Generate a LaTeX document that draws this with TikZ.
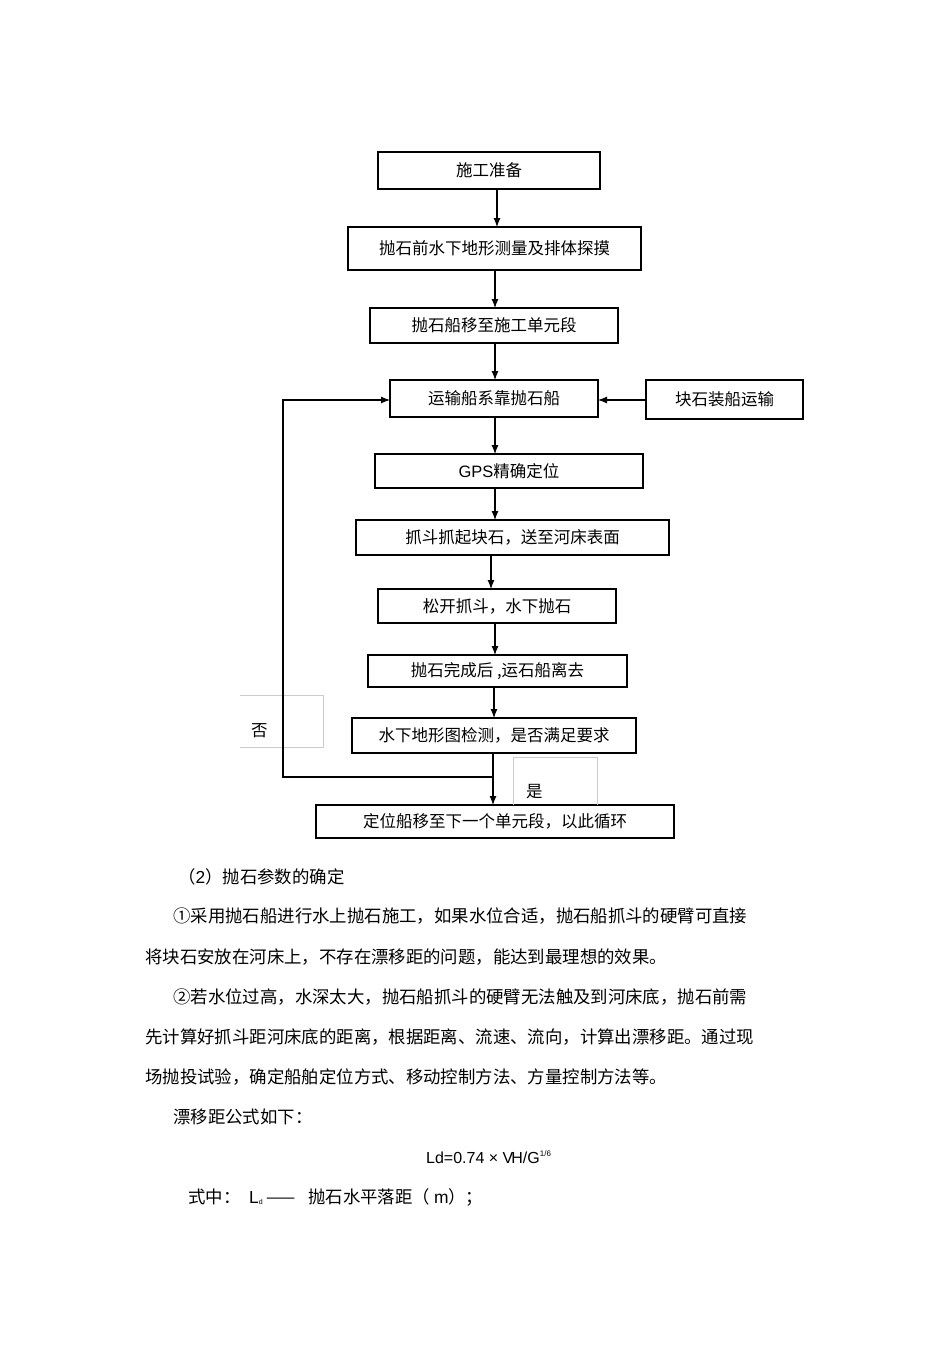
\documentclass[tikz,border=0pt]{standalone}
\usepackage{fontspec}
\usetikzlibrary{arrows.meta}
\setmainfont{Liberation Sans}
\newfontfamily\cjk{Noto Sans CJK SC}
\begin{document}
\begin{tikzpicture}[x=1pt,y=-1pt,
  bx/.style={draw,line width=1.1pt,inner sep=0,font=\cjk\fontsize{16.5}{19}\selectfont},
  ar/.style={-{Latex[length=9pt,width=7pt]},line width=1.1pt},
  tx/.style={anchor=west,inner sep=0,font=\cjk\fontsize{17.4}{20}\selectfont}]
\useasboundingbox (0,0) rectangle (950,1345);
\newcommand{\bxx}[6]{\node[bx,minimum width=#4-#2,minimum height=#5-#3] (#1) at ({(#2+#4)/2},{(#3+#5)/2}) {#6};}
\bxx{a}{378}{152}{600}{189}{施工准备}
\bxx{b}{348}{227}{641}{270}{抛石前水下地形测量及排体探摸}
\bxx{c}{370}{308}{618}{343}{抛石船移至施工单元段}
\bxx{d}{390}{380}{598}{417}{运输船系靠抛石船}
\bxx{e}{646}{380}{803}{419}{块石装船运输}
\bxx{f}{375}{454}{643}{488}{{\fontspec{Liberation Sans}GPS}精确定位}
\bxx{g}{356}{520}{669}{555}{抓斗抓起块石，送至河床表面}
\bxx{h}{378}{589}{616}{623}{松开抓斗，水下抛石}
\bxx{i}{368}{655}{627}{687}{抛石完成后 ,运石船离去}
\bxx{j}{352}{718}{636}{753}{水下地形图检测，是否满足要求}
\bxx{k}{316}{805}{674}{838}{定位船移至下一个单元段，以此循环}
\draw[gray!40,line width=0.6pt] (240,695) -- (323,695) -- (323,747) -- (240,747);
\node[tx,font=\cjk\fontsize{16.5}{19}\selectfont] (no) at (251,731) {否};
\draw[gray!40,line width=0.6pt] (513,805) -- (513,757) -- (597,757) -- (597,805);
\node[tx,font=\cjk\fontsize{16.5}{19}\selectfont] (yes) at (526,792) {是};
\coordinate (a1) at (497,189); \coordinate (b0) at (497,227);
\draw[ar] (a1) -- (b0);
\coordinate (b1) at (495,270); \coordinate (c0) at (495,308);
\draw[ar] (b1) -- (c0);
\coordinate (c1) at (495,343); \coordinate (d0) at (495,380);
\draw[ar] (c1) -- (d0);
\coordinate (d1) at (495,417); \coordinate (f0) at (495,454);
\draw[ar] (d1) -- (f0);
\coordinate (f1) at (495,488); \coordinate (g0) at (495,520);
\draw[ar] (f1) -- (g0);
\coordinate (g1) at (491,555); \coordinate (h0) at (491,589);
\draw[ar] (g1) -- (h0);
\coordinate (h1) at (495,623); \coordinate (i0) at (495,655);
\draw[ar] (h1) -- (i0);
\coordinate (i1) at (494,687); \coordinate (j0) at (494,718);
\draw[ar] (i1) -- (j0);
\coordinate (j1) at (493,753); \coordinate (k0) at (493,805);
\draw[ar] (j1) -- (k0);
\coordinate (e0) at (646,400); \coordinate (d2) at (598,400);
\draw[ar] (e0) -- (d2);
\coordinate (l1) at (493,777); \coordinate (l2) at (283,777); \coordinate (l3) at (283,400); \coordinate (d3) at (390,400);
\draw[ar] (l1) -- (l2) -- (l3) -- (d3);
\node[tx] (p1) at (178,877) {（{\fontspec{Liberation Sans}2}）抛石参数的确定};
\node[tx] (p2) at (173,916) {①采用抛石船进行水上抛石施工，如果水位合适，抛石船抓斗的硬臂可直接};
\node[tx] (p3) at (145,957) {将块石安放在河床上，不存在漂移距的问题，能达到最理想的效果。};
\node[tx] (p4) at (173,997) {②若水位过高，水深太大，抛石船抓斗的硬臂无法触及到河床底，抛石前需};
\node[tx] (p5) at (145,1037) {先计算好抓斗距河床底的距离，根据距离、流速、流向，计算出漂移距。通过现};
\node[tx] (p6) at (145,1077) {场抛投试验，确定船舶定位方式、移动控制方法、方量控制方法等。};
\node[tx] (p7) at (173,1117) {漂移距公式如下：};
\node[anchor=west,inner sep=0,font=\fontsize{16}{18}\selectfont] (fm) at (426,1157) {Ld=0.74 × V\kern-2pt H/G\raisebox{7pt}{\fontsize{8}{9}\selectfont 1/6}};
\node[tx] (p8) at (188,1197) {式中：\enspace{\fontspec{Liberation Sans}L\raisebox{-1pt}{\fontsize{7}{8}\selectfont d}} —— \enspace 抛石水平落距（ {\fontspec{Liberation Sans}m}）；};
\end{tikzpicture}
\end{document}
